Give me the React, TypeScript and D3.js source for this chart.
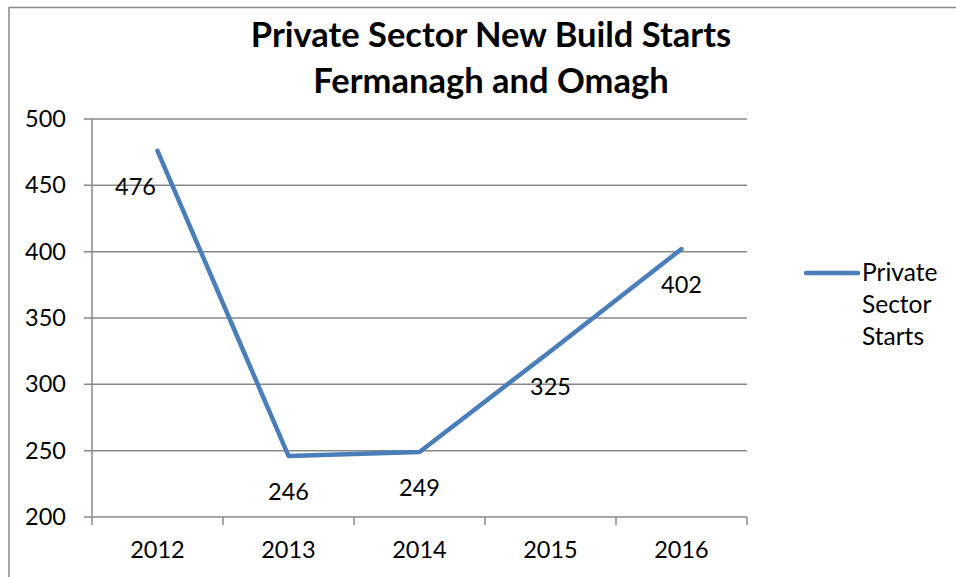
import React, { useRef, useEffect } from 'react';
import * as d3 from 'd3';

// chart values
const YEARS = ['2012', '2013', '2014', '2015', '2016'];
const STARTS = [476, 246, 249, 325, 402];
const Y_TICKS = [200, 250, 300, 350, 400, 450, 500];
const TITLE_LINES = ['Private Sector New Build Starts', 'Fermanagh and Omagh'];
const LEGEND_LINES = ['Private', 'Sector', 'Starts'];

// label nudges (px) so the first one clears the line
const LABEL_DX = [-22, 0, 0, 0, 0];

const FONT = 'Lato, "Open Sans", sans-serif';
const LINE_BLUE = '#4a7ebb';
const GRID = '#888888';

function App() {
  const ref = useRef<SVGSVGElement>(null);

  useEffect(() => {
    const svg = d3.select(ref.current);
    svg.selectAll('*').remove();

    const left = 92;
    const right = 747;
    const top = 119;
    const bottom = 517;

    const x = d3.scaleBand().domain(YEARS).range([left, right]);
    const y = d3.scaleLinear().domain([200, 500]).range([bottom, top]);

    // outer frame (top and left edges show)
    svg.append('path')
      .attr('d', 'M9,577 L9,7.5 L956,7.5')
      .attr('fill', 'none')
      .attr('stroke', GRID)
      .attr('stroke-width', 1.5);

    // title
    const title = svg.append('text')
      .attr('x', 491)
      .attr('text-anchor', 'middle')
      .attr('font-family', FONT)
      .attr('font-weight', 'bold')
      .attr('font-size', 34.5)
      .attr('fill', '#000');
    TITLE_LINES.forEach((t, i) => {
      title.append('tspan').attr('x', 491).attr('y', 47 + i * 46).text(t);
    });

    // horizontal gridlines
    svg.append('g')
      .selectAll('line')
      .data(Y_TICKS)
      .enter()
      .append('line')
      .attr('x1', left - 8)
      .attr('x2', right)
      .attr('y1', d => y(d))
      .attr('y2', d => y(d))
      .attr('stroke', GRID)
      .attr('stroke-width', 1.5);

    // y axis line
    svg.append('line')
      .attr('x1', left).attr('x2', left)
      .attr('y1', top).attr('y2', bottom)
      .attr('stroke', GRID)
      .attr('stroke-width', 1.5);

    // x ticks
    const xTicks = YEARS.map(d => x(d) as number).concat([right]);
    svg.append('g')
      .selectAll('line')
      .data(xTicks)
      .enter()
      .append('line')
      .attr('x1', d => d).attr('x2', d => d)
      .attr('y1', bottom).attr('y2', bottom + 8)
      .attr('stroke', GRID)
      .attr('stroke-width', 1.5);

    // y labels
    svg.append('g')
      .selectAll('text')
      .data(Y_TICKS)
      .enter()
      .append('text')
      .attr('x', 66)
      .attr('y', d => y(d) + 8)
      .attr('text-anchor', 'end')
      .attr('font-family', FONT)
      .attr('font-size', 23.5)
      .attr('fill', '#000')
      .text(d => d);

    // x labels
    svg.append('g')
      .selectAll('text')
      .data(YEARS)
      .enter()
      .append('text')
      .attr('x', d => (x(d) as number) + x.bandwidth() / 2)
      .attr('y', 558)
      .attr('text-anchor', 'middle')
      .attr('font-family', FONT)
      .attr('font-size', 23.5)
      .attr('fill', '#000')
      .text(d => d);

    // series line
    const cx = (i: number) => (x(YEARS[i]) as number) + x.bandwidth() / 2;
    const line = d3.line<number>()
      .x((_, i) => cx(i))
      .y(d => y(d));

    svg.append('path')
      .datum(STARTS)
      .attr('d', line)
      .attr('fill', 'none')
      .attr('stroke', LINE_BLUE)
      .attr('stroke-width', 4.5)
      .attr('stroke-linecap', 'round')
      .attr('stroke-linejoin', 'round');

    // data labels
    svg.append('g')
      .selectAll('text')
      .data(STARTS)
      .enter()
      .append('text')
      .attr('x', (d, i) => cx(i) + LABEL_DX[i])
      .attr('y', d => y(d) + 44)
      .attr('text-anchor', 'middle')
      .attr('font-family', FONT)
      .attr('font-size', 23.5)
      .attr('fill', '#000')
      .text(d => d);

    // legend
    svg.append('line')
      .attr('x1', 806).attr('x2', 858)
      .attr('y1', 273).attr('y2', 273)
      .attr('stroke', LINE_BLUE)
      .attr('stroke-width', 4.5)
      .attr('stroke-linecap', 'round');

    const legendText = svg.append('text')
      .attr('font-family', FONT)
      .attr('font-size', 24.5)
      .attr('fill', '#000');
    LEGEND_LINES.forEach((t, i) => {
      legendText.append('tspan').attr('x', 862).attr('y', 281 + i * 32).text(t);
    });
  }, []);

  return (
    <svg
      ref={ref}
      width={956}
      height={577}
      style={{ position: 'absolute', left: 0, top: 0, background: '#fff' }}
    />
  );
}

export default App;
